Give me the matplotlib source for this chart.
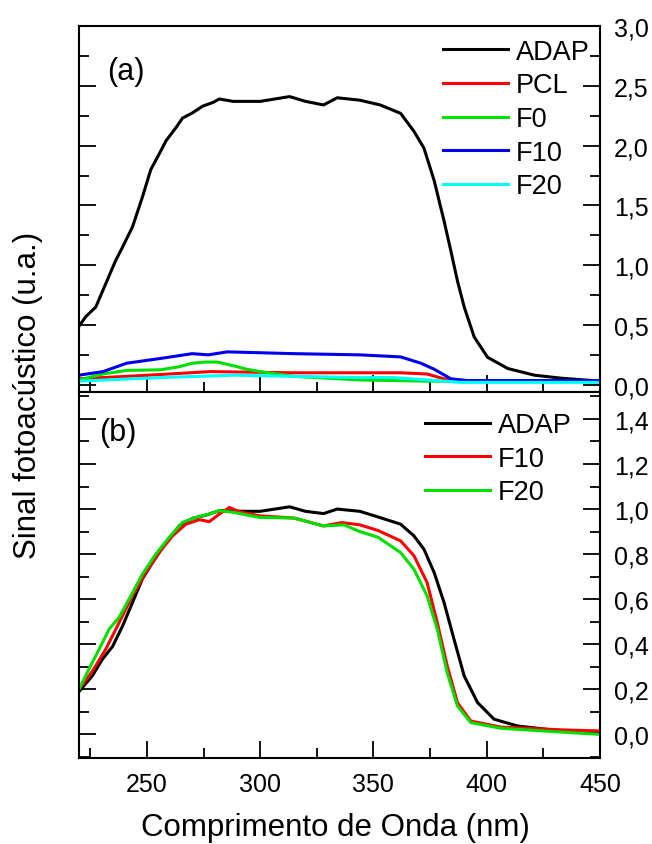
import numpy as np
import matplotlib
matplotlib.use('Agg')
import matplotlib.pyplot as plt
from matplotlib.ticker import MultipleLocator, FuncFormatter

plt.rcParams['font.family'] = ['Liberation Sans', 'DejaVu Sans']

# (a) espectros fotoacústicos
adap_a_x = [220, 223, 227.4, 231.8, 236.2, 239.2, 243.6, 248, 251.7, 255.4, 258.4, 262.8, 265.7,
            270.2, 274.6, 279, 282, 288, 300, 313, 320, 328, 334, 344, 353, 362, 367.9, 372.3,
            376.8, 381.2, 384.2, 387.1, 390.1, 394.5, 400.4, 409.3, 421.1, 432.9, 450]
adap_a_y = [0.49, 0.57, 0.65, 0.845, 1.04, 1.15, 1.32, 1.57, 1.80, 1.93, 2.04, 2.15, 2.23,
            2.275, 2.33, 2.36, 2.39, 2.37, 2.37, 2.41, 2.37, 2.34, 2.40, 2.38, 2.34, 2.27, 2.12, 1.98,
            1.71, 1.37, 1.12, 0.87, 0.65, 0.40, 0.23, 0.136, 0.08, 0.055, 0.03]

pcl_x = [220, 241, 260, 278, 315, 344, 362, 373.7, 381, 386, 392, 450]
pcl_y = [0.05, 0.07, 0.09, 0.11, 0.10, 0.10, 0.10, 0.09, 0.05, 0.04, 0.03, 0.03]

f0_x = [220, 230.6, 241, 256, 264, 270, 276, 281, 288, 294, 300, 315, 344, 374, 450]
f0_y = [0.04, 0.09, 0.12, 0.125, 0.15, 0.18, 0.19, 0.19, 0.16, 0.13, 0.11, 0.07, 0.04, 0.03, 0.025]

f10_a_x = [220, 230.6, 241, 256, 270, 277, 285.5, 315, 344, 362, 371, 376.8, 384.2, 391.6, 400, 450]
f10_a_y = [0.08, 0.11, 0.18, 0.22, 0.26, 0.25, 0.275, 0.26, 0.25, 0.233, 0.18, 0.13, 0.05, 0.035,
           0.035, 0.035]

f20_a_x = [220, 256, 288.5, 315, 344, 359, 374, 388, 450]
f20_a_y = [0.03, 0.06, 0.08, 0.07, 0.06, 0.06, 0.04, 0.02, 0.02]

# (b) espectros normalizados
adap_b_x = [220, 225.9, 230.3, 234.8, 239.2, 243.6, 248, 252.5, 258.4, 264.3, 270.2, 276, 282,
            293.8, 300, 313, 320, 328, 334, 344, 352, 362, 367.9, 372.3, 376.8, 381.2, 385.6,
            390.1, 396, 403.3, 413.7, 432.9, 450]
adap_b_y = [0.19, 0.26, 0.333, 0.39, 0.48, 0.585, 0.69, 0.763, 0.852, 0.926, 0.959, 0.973, 0.993,
            0.99, 0.99, 1.01, 0.99, 0.98, 1.0, 0.99, 0.965, 0.933, 0.881, 0.822, 0.719, 0.585, 0.422,
            0.259, 0.141, 0.067, 0.037, 0.015, 0.005]

f10_b_x = [220, 225.9, 231.8, 237.7, 243.6, 249.5, 255.4, 261.3, 267.2, 273.1, 277.5, 282, 286.4,
           290.8, 299.7, 315, 328, 336, 344, 352, 362, 367.9, 373.7, 378.2, 382.6, 387.1, 393,
           406.3, 432.9, 450]
f10_b_y = [0.2, 0.28, 0.378, 0.496, 0.615, 0.719, 0.807, 0.881, 0.933, 0.953, 0.944, 0.978, 1.007,
           0.988, 0.97, 0.96, 0.925, 0.94, 0.93, 0.905, 0.859, 0.793, 0.674, 0.496, 0.304, 0.141,
           0.059, 0.032, 0.02, 0.015]

f20_b_x = [220, 224.4, 228.9, 233.3, 237.7, 242.1, 248, 253.9, 259.8, 265.7, 271.6, 277.5, 282,
           287.9, 299.7, 315, 328, 337, 344, 352, 362, 367.9, 373.7, 378.2, 382.6, 387.1, 393,
           406.3, 432.9, 450]
f20_b_y = [0.2, 0.29, 0.378, 0.467, 0.519, 0.6, 0.711, 0.8, 0.874, 0.941, 0.963, 0.978, 0.993,
           0.986, 0.963, 0.96, 0.925, 0.93, 0.90, 0.875, 0.807, 0.733, 0.615, 0.467, 0.274, 0.126,
           0.052, 0.027, 0.01, 0.0]

FS = 18
LW = 2.2

fig = plt.figure(figsize=(6.52, 8.45), dpi=100)
ax1 = fig.add_axes([0.1212, 0.535, 0.7988, 0.433])
ax2 = fig.add_axes([0.1212, 0.1018, 0.7988, 0.4332])

ax1.plot(adap_a_x, adap_a_y, color='black', lw=LW, label='ADAP')
ax1.plot(pcl_x, pcl_y, color='red', lw=LW, label='PCL')
ax1.plot(f0_x, f0_y, color='#00e000', lw=LW, label='F0')
ax1.plot(f10_a_x, f10_a_y, color='#0000ee', lw=LW, label='F10')
ax1.plot(f20_a_x, f20_a_y, color='cyan', lw=LW, label='F20')

ax2.plot(adap_b_x, adap_b_y, color='black', lw=LW, label='ADAP')
ax2.plot(f10_b_x, f10_b_y, color='red', lw=LW, label='F10')
ax2.plot(f20_b_x, f20_b_y, color='#00e000', lw=LW, label='F20')

comma = FuncFormatter(lambda v, p: f'{v:.1f}'.replace('.', ','))

for ax in (ax1, ax2):
    ax.set_xlim(220, 450)
    ax.xaxis.set_major_locator(MultipleLocator(50))
    ax.xaxis.set_minor_locator(MultipleLocator(25))
    ax.tick_params(which='both', direction='in', left=True, right=True, top=False, bottom=True,
                   labelleft=False, labelright=True, labelsize=FS, width=1.3)
    ax.tick_params(which='major', length=12, pad=10)
    ax.tick_params(which='minor', length=7)
    ax.yaxis.set_major_formatter(comma)
    for s in ax.spines.values():
        s.set_linewidth(1.5)

ax1.set_ylim(-0.06, 3.0)
ax1.yaxis.set_major_locator(MultipleLocator(0.5))
ax1.yaxis.set_minor_locator(MultipleLocator(0.25))
ax1.tick_params(labelbottom=False)

ax2.set_ylim(-0.105, 1.52)
ax2.yaxis.set_major_locator(MultipleLocator(0.2))
ax2.yaxis.set_minor_locator(MultipleLocator(0.1))
ax2.set_yticks(np.arange(0, 1.41, 0.2))

ax1.text(0.054, 0.877, '(a)', transform=ax1.transAxes, fontsize=22, ha='left', va='center')
ax2.text(0.038, 0.89, '(b)', transform=ax2.transAxes, fontsize=22, ha='left', va='center')

leg_kw = dict(frameon=False, fontsize=19.5, handlelength=2.4, handletextpad=0.3,
              labelspacing=0.28, borderpad=0, borderaxespad=0, loc='upper right')
ax1.legend(bbox_to_anchor=(0.981, 0.965), **leg_kw)
ax2.legend(bbox_to_anchor=(0.946, 0.945), **leg_kw)

fig.text(0.043, 0.5325, 'Sinal fotoacústico (u.a.)', rotation=90, fontsize=22.5,
         ha='center', va='center')
fig.text(0.514, 0.02, 'Comprimento de Onda (nm)', fontsize=22.5, ha='center', va='center')

fig.savefig('out.png', dpi=100)
